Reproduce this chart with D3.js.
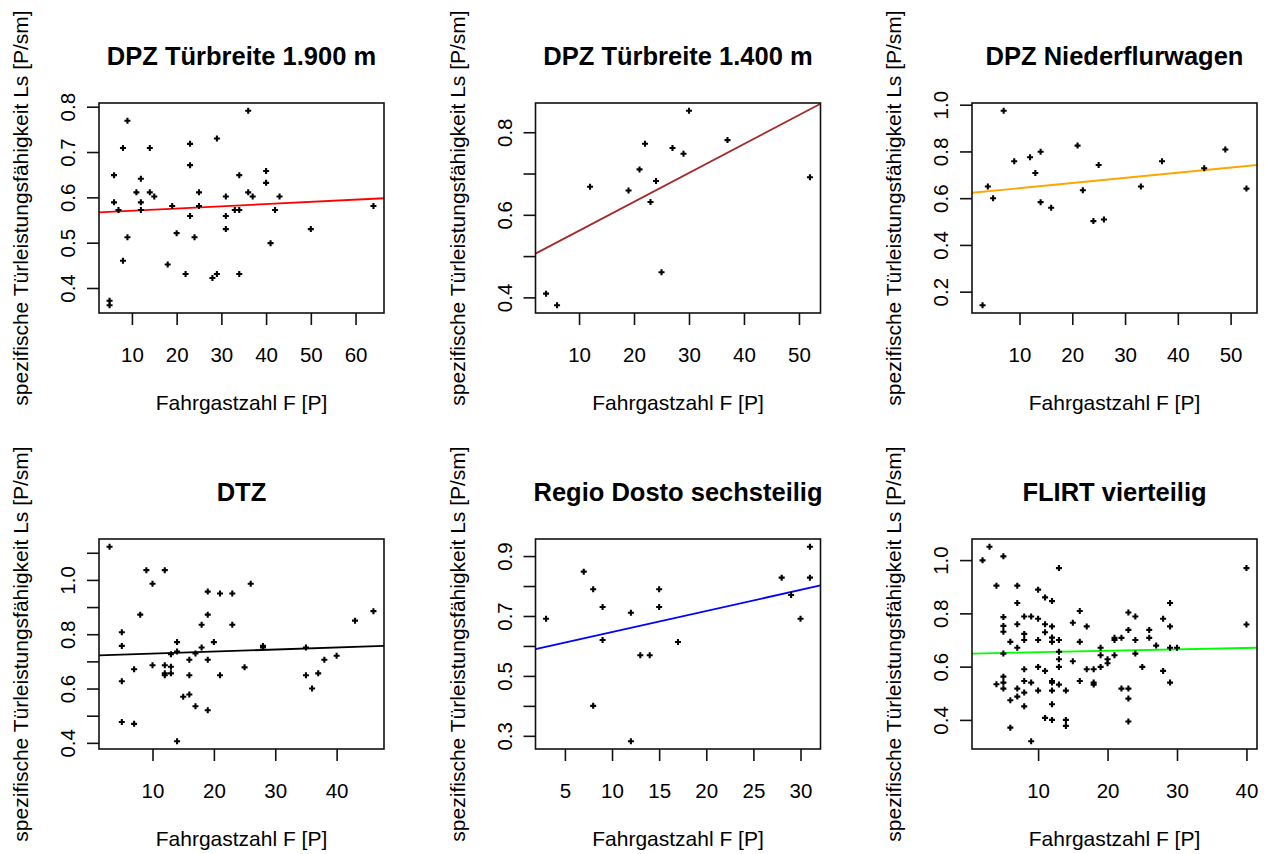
<!DOCTYPE html>
<html>
<head>
<meta charset="utf-8">
<script src="https://cdn.jsdelivr.net/npm/d3@7"></script>
<style>
  body { margin: 0; background: #fff; }
  svg text { font-family: "Liberation Sans", Arial, sans-serif; fill: #000; }
</style>
</head>
<body>
<svg id="chart" width="1266" height="854"></svg>
<script>
// titles, colours of the regression lines
const titles = [
  "DPZ Türbreite 1.900 m", "DPZ Türbreite 1.400 m", "DPZ Niederflurwagen",
  "DTZ", "Regio Dosto sechsteilig", "FLIRT vierteilig"
];
const lineColors = ["#ff0000", "#a52a2a", "#ffa500", "#000000", "#0000ff", "#00ff00"];

const xTitle = "Fahrgastzahl F [P]";
const yTitle = "spezifische Türleistungsfähigkeit Ls [P/sm]";

// DPZ Türbreite 1.900 m
const dpz1900X = [5, 5, 6, 6, 7, 8, 9, 9, 8, 11, 12, 12, 12, 14, 14, 15, 18, 19, 20, 22, 23, 23, 23,
  24, 25, 25, 28, 29, 29, 31, 31, 31, 33, 34, 34, 34, 36, 36, 37, 40, 40, 41, 42, 43, 50, 64];
const dpz1900Y = [0.372, 0.362, 0.649, 0.589, 0.572, 0.709, 0.769, 0.512, 0.460, 0.611, 0.641, 0.589,
  0.572, 0.709, 0.611, 0.602, 0.452, 0.581, 0.521, 0.431, 0.718, 0.671, 0.559, 0.512, 0.611, 0.581,
  0.422, 0.431, 0.730, 0.602, 0.559, 0.530, 0.572, 0.572, 0.649, 0.431, 0.791, 0.611, 0.602, 0.658,
  0.632, 0.499, 0.572, 0.602, 0.530, 0.581];

// DPZ Türbreite 1.400 m
const dpz1400X = [4, 6, 12, 19, 21, 22, 23, 24, 25, 27, 29, 30, 37, 52];
const dpz1400Y = [0.409, 0.381, 0.668, 0.659, 0.710, 0.772, 0.631, 0.682, 0.461, 0.762, 0.748, 0.852,
  0.781, 0.691];

// DPZ Niederflurwagen
const dpzNfX = [3, 4, 5, 7, 9, 12, 13, 14, 14, 16, 21, 22, 24, 25, 26, 33, 37, 45, 49, 53];
const dpzNfY = [0.142, 0.650, 0.600, 0.974, 0.758, 0.775, 0.708, 0.799, 0.583, 0.559, 0.825, 0.634,
  0.502, 0.742, 0.509, 0.650, 0.758, 0.728, 0.808, 0.641];

// DTZ
const dtzX = [3, 5, 5, 5, 5, 7, 7, 8, 9, 10, 10, 12, 12, 12, 12, 13, 13, 13, 14, 14, 14, 15, 16, 16,
  16, 17, 17, 18, 18, 19, 19, 19, 19, 20, 21, 21, 23, 23, 25, 26, 28, 28, 35, 35, 36, 37, 38, 40, 43, 46];
const dtzY = [1.122, 0.807, 0.757, 0.627, 0.477, 0.671, 0.470, 0.872, 1.036, 0.986, 0.686, 1.036,
  0.686, 0.656, 0.649, 0.726, 0.680, 0.656, 0.771, 0.736, 0.406, 0.570, 0.706, 0.649, 0.578, 0.729,
  0.535, 0.835, 0.751, 0.957, 0.872, 0.706, 0.520, 0.771, 0.950, 0.649, 0.950, 0.835, 0.678, 0.986,
  0.757, 0.751, 0.751, 0.649, 0.600, 0.656, 0.706, 0.721, 0.850, 0.885];

// Regio Dosto sechsteilig
const dostoX = [3, 7, 8, 8, 9, 9, 12, 12, 13, 14, 15, 15, 17, 28, 29, 30, 31, 31];
const dostoY = [0.691, 0.848, 0.789, 0.400, 0.730, 0.620, 0.711, 0.282, 0.569, 0.569, 0.789, 0.730,
  0.613, 0.828, 0.770, 0.691, 0.931, 0.828];

// FLIRT vierteilig
const flirtX = [2, 3, 5, 13, 40, 40, 4, 7, 10, 7, 11, 12, 29, 16, 23, 5, 8, 9, 10, 24, 28, 15, 5, 5,
  7, 11, 12, 17, 29, 23, 26, 8, 8, 11, 12, 12, 13, 10, 6, 16, 21, 21, 22, 24, 26, 27, 7, 19, 29, 30,
  5, 13, 19, 24, 21, 13, 20, 20, 15, 10, 13, 8, 11, 17, 18, 19, 25, 28, 5, 5, 4, 5, 8, 9, 12, 12, 13,
  16, 18, 18, 29, 7, 8, 10, 12, 14, 22, 23, 6, 7, 23, 8, 12, 11, 12, 14, 14, 23, 6, 9];
const flirtY = [0.999, 1.050, 1.014, 0.970, 0.970, 0.758, 0.904, 0.904, 0.889, 0.839, 0.860, 0.846,
  0.839, 0.809, 0.803, 0.786, 0.788, 0.788, 0.780, 0.788, 0.780, 0.765, 0.753, 0.731, 0.759, 0.759,
  0.751, 0.751, 0.751, 0.738, 0.738, 0.723, 0.700, 0.729, 0.709, 0.693, 0.700, 0.700, 0.693, 0.693,
  0.708, 0.700, 0.708, 0.700, 0.708, 0.679, 0.671, 0.671, 0.671, 0.671, 0.649, 0.656, 0.643, 0.649,
  0.643, 0.628, 0.628, 0.613, 0.620, 0.599, 0.599, 0.590, 0.584, 0.590, 0.590, 0.599, 0.599, 0.584,
  0.5625, 0.540, 0.534, 0.5175, 0.546, 0.540, 0.546, 0.540, 0.5325, 0.546, 0.540, 0.5325, 0.540,
  0.5175, 0.5025, 0.510, 0.510, 0.510, 0.5175, 0.5175, 0.474, 0.4875, 0.480, 0.451, 0.459, 0.4075,
  0.400, 0.400, 0.3775, 0.394, 0.371, 0.320];

const xValues = [dpz1900X, dpz1400X, dpzNfX, dtzX, dostoX, flirtX];
const yValues = [dpz1900Y, dpz1400Y, dpzNfY, dtzY, dostoY, flirtY];

// abline(lm(...)): intercept, slope
const fitIntercepts = [0.5657, 0.4914, 0.621, 0.721, 0.5758, 0.6487];
const fitSlopes = [0.000487, 0.0070, 0.0022, 0.000754, 0.00704, 0.000536];

// ticks and the labels R had room for
const xTicks = [
  [10, 20, 30, 40, 50, 60], [10, 20, 30, 40, 50], [10, 20, 30, 40, 50],
  [10, 20, 30, 40], [5, 10, 15, 20, 25, 30], [10, 20, 30, 40]
];
const yTicks = [
  [0.4, 0.5, 0.6, 0.7, 0.8], [0.4, 0.5, 0.6, 0.7, 0.8], [0.2, 0.4, 0.6, 0.8, 1.0],
  [0.4, 0.5, 0.6, 0.7, 0.8, 0.9, 1.0, 1.1], [0.3, 0.4, 0.5, 0.6, 0.7, 0.8, 0.9], [0.4, 0.6, 0.8, 1.0]
];
const yTickLabels = [
  [0.4, 0.5, 0.6, 0.7, 0.8], [0.4, 0.6, 0.8], [0.2, 0.4, 0.6, 0.8, 1.0],
  [0.4, 0.6, 0.8, 1.0], [0.3, 0.5, 0.7, 0.9], [0.4, 0.6, 0.8, 1.0]
];

/////////////////////////////////////////////////////////
// LAYOUT

const colLeft = [99, 535.5, 972];
const rowTop = [103, 539];
const W = 285;
const H = 210;

// R pads the data range by 4% on each side
const rDomain = (vals) => {
  const [lo, hi] = d3.extent(vals);
  const pad = (hi - lo) * 0.04;
  return [lo - pad, hi + pad];
};

const svg = d3.select("#chart");
const fmtY = d3.format(".1f");

titles.forEach((title, i) => {
  const left = colLeft[i % 3];
  const top = rowTop[Math.floor(i / 3)];
  const xs = xValues[i];
  const ys = yValues[i];

  const x = d3.scaleLinear().domain(rDomain(xs)).range([0, W]);
  const y = d3.scaleLinear().domain(rDomain(ys)).range([H, 0]);

  const g = svg.append("g").attr("transform", `translate(${left},${top})`);

  g.append("clipPath").attr("id", `clip${i}`)
    .append("rect").attr("width", W).attr("height", H);

  // regression line across the plot region
  const [x0, x1] = x.domain();
  const fit = (v) => fitIntercepts[i] + fitSlopes[i] * v;
  g.append("line")
    .attr("clip-path", `url(#clip${i})`)
    .attr("x1", x(x0)).attr("y1", y(fit(x0)))
    .attr("x2", x(x1)).attr("y2", y(fit(x1)))
    .attr("stroke", lineColors[i])
    .attr("stroke-width", 1.8);

  // points, pch = "+"
  g.selectAll("path.pt").data(xs.map((d, k) => [d, ys[k]]))
    .enter().append("path")
    .attr("class", "pt")
    .attr("transform", d => `translate(${x(d[0])},${y(d[1])})`)
    .attr("d", "M-3,0H3M0,-3V3")
    .attr("stroke", "#000")
    .attr("stroke-width", 2.1);

  // box
  g.append("rect")
    .attr("width", W).attr("height", H)
    .attr("fill", "none")
    .attr("stroke", "#111")
    .attr("stroke-width", 1.6);

  // x axis
  g.append("g")
    .attr("transform", `translate(0,${H})`)
    .call(d3.axisBottom(x).tickValues(xTicks[i]).tickSize(12).tickSizeOuter(0).tickFormat(d3.format("d")))
    .call(a => a.select(".domain").remove())
    .call(a => a.selectAll(".tick line").attr("stroke", "#111").attr("stroke-width", 1.6))
    .call(a => a.selectAll(".tick text")
      .attr("y", 49).attr("dy", null)
      .attr("font-size", 20.5).attr("fill", "#000"));

  // y axis, labels parallel to the axis
  const shown = yTickLabels[i];
  g.append("g")
    .call(d3.axisLeft(y).tickValues(yTicks[i]).tickSize(12).tickSizeOuter(0)
      .tickFormat(d => shown.some(s => Math.abs(s - d) < 1e-9) ? fmtY(d) : ""))
    .call(a => a.select(".domain").remove())
    .call(a => a.selectAll(".tick line").attr("stroke", "#111").attr("stroke-width", 1.6))
    .call(a => a.selectAll(".tick text")
      .attr("x", null).attr("dy", null)
      .attr("text-anchor", "middle")
      .attr("transform", "translate(-24,0) rotate(-90)")
      .attr("font-size", 20.5).attr("fill", "#000"));

  // titles
  g.append("text")
    .attr("x", W / 2).attr("y", -38)
    .attr("text-anchor", "middle")
    .attr("font-size", 25.5)
    .attr("font-weight", "bold")
    .text(title);

  g.append("text")
    .attr("x", W / 2).attr("y", H + 97)
    .attr("text-anchor", "middle")
    .attr("font-size", 21)
    .text(xTitle);

  g.append("text")
    .attr("transform", `translate(-71,${H / 2}) rotate(-90)`)
    .attr("text-anchor", "middle")
    .attr("font-size", 21)
    .text(yTitle);
});
</script>
</body>
</html>
